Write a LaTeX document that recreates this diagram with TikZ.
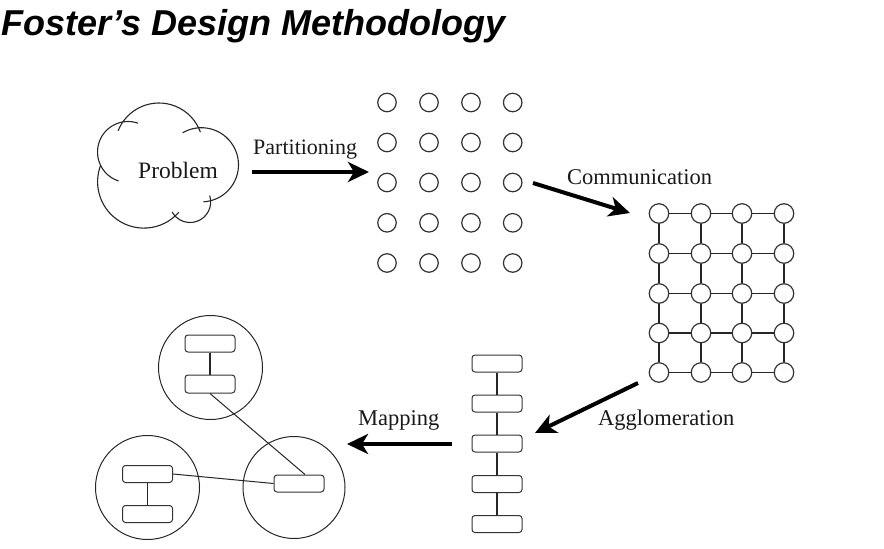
\documentclass[tikz,border=0pt]{standalone}
\usepackage{fontspec}
\setmainfont{Liberation Serif}
\newfontfamily\titlefont{Liberation Sans}
\usetikzlibrary{arrows.meta}
\begin{document}
\begin{tikzpicture}[x=1pt,y=-1pt,
  ink/.style={draw=black!85, line width=1.1pt},
  dot/.style={circle, draw=black!80, line width=1.2pt, minimum size=18.5pt, inner sep=0pt},
  gnode/.style={circle, draw=black!80, fill=white, line width=1.2pt, minimum size=19.5pt, inner sep=0pt},
  glink/.style={draw=black!85, line width=1.6pt},
  task/.style={draw=black!80, line width=1pt, rounded corners=3pt, minimum width=50pt, minimum height=17pt, inner sep=0pt, fill=white},
  proc/.style={circle, draw=black!85, line width=1pt, inner sep=0pt},
  thin/.style={draw=black!85, line width=1pt},
  tlink/.style={draw=black!85, line width=1.5pt},
  big/.style={draw=black, line width=4pt, -{Stealth[length=21pt,width=20pt,inset=6pt]}},
  lbl/.style={anchor=base west, inner sep=0pt, font=\fontsize{22.5}{26}\selectfont, text=black!90},
]
\useasboundingbox (0,0) rectangle (884,549);

% title
\node[anchor=base west, inner sep=0pt, font=\titlefont\bfseries\itshape\fontsize{36}{40}\selectfont] (title) at (1,35) {Foster’s Design Methodology};

% cloud
\draw[ink] (159,147) ++(201.6:44) arc[start angle=201.6, end angle=340.4, radius=44];
\draw[ink] (201.4,164.8) ++(239.5:37.1) arc[start angle=239.5, end angle=447, radius=37.1];
\draw[ink] (190.1,201.9) ++(-18:20.6) arc[start angle=-18, end angle=151, radius=20.6];
\draw[ink] (143.9,181.8) ++(41:46.3) arc[start angle=41, end angle=201, radius=46.3];
\draw[ink] (128,152) ++(289:30.5) arc[start angle=289, end angle=108, radius=30.5];
\node[anchor=base west, inner sep=0pt, font=\fontsize{23.5}{27}\selectfont, text=black!90] (problem) at (138,178) {Problem};

% partitioned tasks
\foreach \c [count=\i] in {387,429,471,512.7}
  \foreach \r [count=\j] in {102.5,142.5,182.5,222.8,263}
    \node[dot] (p-\i-\j) at (\c,\r) {};

% communication grid
\foreach \c [count=\i] in {659,701,742,784}
  \foreach \r [count=\j] in {213.5,253.5,293.5,333,372.5}
    \node[gnode] (g-\i-\j) at (\c,\r) {};
\foreach \i in {1,2,3,4}{
  \foreach \j in {1,2,3,4}{
    \pgfmathtruncatemacro\k{\j+1}
    \draw[glink] (g-\i-\j) -- (g-\i-\k);
  }
}
\foreach \i in {1,2,3}{
  \foreach \j in {1,2,3,4,5}{
    \pgfmathtruncatemacro\k{\i+1}
    \draw[glink] (g-\i-\j) -- (g-\k-\j);
  }
}

% agglomerated column
\foreach \r [count=\j] in {363.5,403.5,443.5,484,524}
  \node[task] (d-\j) at (497,\r) {};
\foreach \j in {1,2,3,4}{
  \pgfmathtruncatemacro\k{\j+1}
  \draw[tlink] (d-\j) -- (d-\k);
}

% mapping
\node[proc, minimum size=104pt] (m1) at (210.5,367.5) {};
\node[proc, minimum size=104pt] (m2) at (147.5,487.5) {};
\node[proc, minimum size=102pt] (m3) at (294,487.5) {};
\node[task] (a1) at (210,343.5) {};
\node[task, minimum height=18pt] (a2) at (210,384) {};
\node[task] (b1) at (147.5,474) {};
\node[task] (b2) at (147.5,514) {};
\node[task] (c1) at (299,483.5) {};
\draw[tlink] (a1) -- (a2);
\draw[tlink] (b1) -- (b2);
\draw[thin] (a2.south) -- ([xshift=6pt]c1.north);
\draw[thin] (b1.east) -- (c1.west);

% arrows
\coordinate (a1s) at (252,172);
\coordinate (a1e) at (369,172);
\coordinate (a2s) at (533,183);
\coordinate (a2e) at (630,213);
\coordinate (a3s) at (638,383);
\coordinate (a3e) at (535,433);
\coordinate (a4s) at (452,444);
\coordinate (a4e) at (347,444);
\draw[big] (a1s) -- (a1e);
\draw[big] (a2s) -- (a2e);
\draw[big] (a3s) -- (a3e);
\draw[big] (a4s) -- (a4e);

% labels
\node[lbl, font=\fontsize{22}{26}\selectfont] (lpart) at (253,154) {Partitioning};
\node[lbl] (lcomm) at (567,184) {Communication};
\node[lbl] (lagg) at (598,425) {Agglomeration};
\node[lbl] (lmap) at (358,425) {Mapping};
\end{tikzpicture}
\end{document}
